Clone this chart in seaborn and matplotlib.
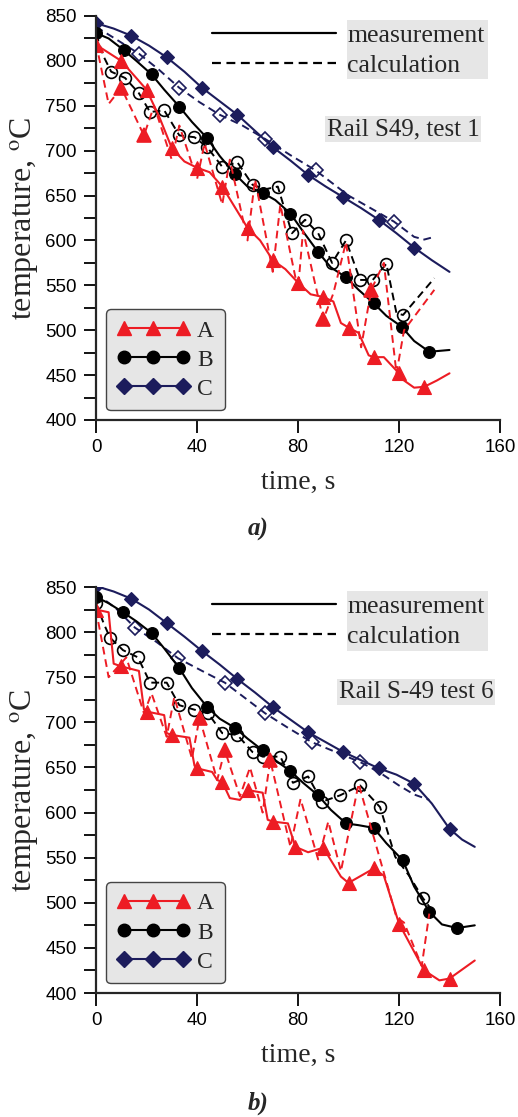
import numpy as np
import pandas as pd
import matplotlib
matplotlib.use("Agg")
import matplotlib.pyplot as plt
import seaborn as sns
from matplotlib.lines import Line2D
from matplotlib.patches import Rectangle
from matplotlib.ticker import MultipleLocator

# ---- panel a) Rail S49, test 1 ----
a_A_meas_t = [0, 10, 20, 25, 30, 35, 40, 45, 50, 55, 60, 65, 70, 75, 80, 85, 90, 94, 97, 100, 104, 108, 110, 114, 120, 122, 126, 130, 135, 140]
a_A_meas_T = [818, 800, 768, 738, 703, 688, 681, 676, 660, 637, 614, 600, 578, 568, 553, 540, 537, 532, 508, 503, 497, 472, 470, 470, 452, 444, 436, 437, 444, 452]
a_A_meas_mk = [0, 1, 2, 4, 6, 8, 10, 12, 14, 16, 19, 22, 24, 27]
a_A_calc_t = [0, 5, 10, 19, 23, 30, 33, 40, 43, 50, 53, 60, 63, 70, 73, 80, 82, 90, 94, 99, 105, 109, 114, 119, 122, 134]
a_A_calc_T = [820, 752, 770, 717, 750, 690, 728, 668, 708, 640, 690, 600, 668, 565, 640, 545, 611, 512, 541, 598, 481, 545, 575, 452, 500, 545]
a_A_calc_mk = [2, 3, 17, 21]

a_B_meas_t = [0, 5, 11, 16, 22, 27, 33, 38, 44, 49, 55, 60, 66, 71, 77, 82, 88, 93, 99, 104, 110, 115, 121, 126, 132, 136, 140]
a_B_meas_T = [831, 825, 812, 800, 785, 768, 749, 732, 714, 694, 674, 660, 653, 645, 630, 610, 587, 570, 559, 545, 530, 516, 504, 488, 476, 477, 478]
a_B_meas_mk = list(range(0, 25, 2))
a_B_calc_t = [0, 3, 6, 11.5, 17, 21.4, 27, 33, 39, 44, 50, 56, 62, 67, 72, 77.6, 82.8, 88, 93.5, 99, 104.6, 109.6, 115, 119, 121.6, 134]
a_B_calc_T = [830, 805, 788, 781, 764, 743, 745, 717, 715, 704, 682, 687, 662, 657, 660, 608, 623, 608, 575, 600, 556, 556, 574, 519, 517, 558]
a_B_calc_mk = [2, 3, 4, 5, 6, 7, 8, 9, 10, 11, 12, 14, 15, 16, 17, 18, 19, 20, 21, 22, 24]

a_C_meas_t = [0, 7, 14, 21, 28, 35, 42, 49, 56, 63, 70, 77, 84, 91, 98, 105, 112, 119, 126, 133, 140]
a_C_meas_T = [842, 836, 828, 817, 804, 788, 770, 755, 740, 722, 704, 689, 673, 660, 648, 636, 623, 608, 592, 578, 565]
a_C_meas_mk = list(range(0, 19, 2))
a_C_calc_t = [0, 8, 17, 25, 33, 41, 49, 58, 67, 77, 87, 100, 110, 118, 126, 130, 134]
a_C_calc_T = [838, 824, 808, 790, 770, 754, 740, 728, 713, 695, 678, 650, 634, 621, 604, 601, 604]
a_C_calc_mk = [2, 4, 6, 8, 10, 13]

# ---- panel b) Rail S-49 test 6 ----
b_A_meas_t = [0, 5, 7, 10, 17, 19, 20, 27, 28, 30, 37, 39, 40, 46, 48, 50, 53, 57, 60, 66, 68, 70, 76, 79, 84, 90, 97, 100, 110, 114, 120, 130, 136, 140, 150]
b_A_meas_T = [825, 822, 765, 762, 757, 714, 712, 708, 688, 686, 683, 652, 649, 645, 636, 634, 616, 614, 625, 622, 592, 590, 588, 562, 556, 561, 529, 522, 538, 530, 477, 425, 414, 416, 436]
b_A_meas_mk = [0, 3, 6, 9, 12, 15, 18, 21, 23, 25, 27, 28, 30, 31, 33]
b_A_calc_t = [0, 5, 12, 19, 22, 28, 31, 38, 41, 48, 51, 57, 61, 66, 69, 77, 81, 88, 92, 97, 104, 119, 122, 129, 132]
b_A_calc_T = [825, 750, 772, 710, 732, 684, 728, 660, 705, 636, 669, 618, 650, 600, 658, 562, 615, 548, 590, 535, 632, 484, 478, 430, 488]
b_A_calc_mk = [8, 10, 14]

b_B_meas_t = [0, 5, 10.7, 16, 22, 27, 33, 38, 44, 49, 55, 60, 66, 71, 77, 82, 88, 93, 99, 104, 110, 115, 121.5, 126, 132, 137, 143, 150]
b_B_meas_T = [839, 832, 822, 812, 799, 782, 760, 738, 717, 704, 694, 682, 669, 658, 646, 633, 619, 603, 588, 586, 583, 566, 547, 518, 490, 476, 472, 475]
b_B_meas_mk = list(range(0, 27, 2))
b_B_calc_t = [0, 3, 5.5, 10.7, 16.6, 21.4, 28, 33, 39, 44.4, 50, 56, 62, 66, 73, 78, 84, 89.5, 96.6, 104.6, 112.5, 118.5, 124, 129.5, 133]
b_B_calc_T = [832, 810, 794, 780, 772, 744, 744, 719, 714, 710, 688, 686, 667, 662, 662, 633, 640, 612, 619, 630, 606, 551, 530, 505, 492]
b_B_calc_mk = [0, 2, 3, 4, 5, 6, 7, 8, 9, 10, 11, 12, 13, 14, 15, 16, 17, 18, 19, 20, 23]

b_C_meas_t = [0, 7, 14, 21, 28, 35, 42, 49, 56, 63, 70, 77, 84, 91, 98, 105, 112, 119, 126, 133, 140, 145, 150]
b_C_meas_T = [851, 845, 837, 825, 810, 795, 779, 764, 748, 733, 717, 703, 689, 678, 667, 658, 649, 642, 632, 610, 582, 570, 562]
b_C_meas_mk = list(range(0, 21, 2))
b_C_calc_t = [0, 8, 15.4, 24, 32.5, 42, 51, 59, 67, 76, 85.5, 95, 104.6, 112, 120, 126, 132]
b_C_calc_T = [843, 826, 805, 789, 771, 757, 744, 727, 710, 694, 678, 667, 656, 645, 630, 620, 614]
b_C_calc_mk = [2, 4, 6, 8, 10, 12]

names = ["A", "B", "C"]
x_ticks = [0, 40, 80, 120, 160]
y_ticks = [400, 450, 500, 550, 600, 650, 700, 750, 800, 850]
panel_titles = ["Rail S49, test 1", "Rail S-49 test 6"]
panel_tags = ["a)", "b)"]

RED = "#ed1c24"
BLACK = "#000000"
NAVY = "#1c1c5c"
colors = {"A": RED, "B": BLACK, "C": NAVY}
markers = {"A": "^", "B": "o", "C": "D"}
msizes = {"A": 10, "B": 8.5, "C": 7.5}
GRAY = "#e6e6e6"
SERIF = "Liberation Serif"

sns.set_style("ticks")
plt.rcParams["font.family"] = ["Liberation Sans", "DejaVu Sans"]
plt.rcParams["mathtext.fontset"] = "stix"

panels = [
    {
        "A": (a_A_meas_t, a_A_meas_T, a_A_meas_mk, a_A_calc_t, a_A_calc_T, a_A_calc_mk),
        "B": (a_B_meas_t, a_B_meas_T, a_B_meas_mk, a_B_calc_t, a_B_calc_T, a_B_calc_mk),
        "C": (a_C_meas_t, a_C_meas_T, a_C_meas_mk, a_C_calc_t, a_C_calc_T, a_C_calc_mk),
    },
    {
        "A": (b_A_meas_t, b_A_meas_T, b_A_meas_mk, b_A_calc_t, b_A_calc_T, b_A_calc_mk),
        "B": (b_B_meas_t, b_B_meas_T, b_B_meas_mk, b_B_calc_t, b_B_calc_T, b_B_calc_mk),
        "C": (b_C_meas_t, b_C_meas_T, b_C_meas_mk, b_C_calc_t, b_C_calc_T, b_C_calc_mk),
    },
]
text_pos = [(0.76, 0.72), (0.792, 0.741)]

fig = plt.figure(figsize=(5.18, 11.17), dpi=100)
ax_a = fig.add_axes([96 / 518, 1 - 420 / 1117, 404 / 518, 404 / 1117])
ax_b = fig.add_axes([96 / 518, 1 - 993 / 1117, 404 / 518, 406 / 1117])
dash = (0, (4, 2.5))

for ax, series, title, tpos in zip([ax_a, ax_b], panels, panel_titles, text_pos):
    for name in ["C", "B", "A"]:
        mt, mT, mmk, ct, cT, cmk = series[name]
        col = colors[name]
        calc_face = col if name == "A" else "none"
        df_c = pd.DataFrame({"t": ct, "T": cT})
        sns.lineplot(data=df_c, x="t", y="T", ax=ax, sort=False, estimator=None,
                     color=col, lw=1.4, linestyle=dash, marker=markers[name],
                     markevery=cmk, ms=msizes[name], mfc=calc_face, mec=col,
                     mew=1.2)
        df_m = pd.DataFrame({"t": mt, "T": mT})
        sns.lineplot(data=df_m, x="t", y="T", ax=ax, sort=False, estimator=None,
                     color=col, lw=1.5, marker=markers[name], markevery=mmk,
                     ms=msizes[name], mfc=col, mec=col, mew=0.8)

    ax.set_xlim(0, 160)
    ax.set_ylim(400, 850)
    ax.set_xticks(x_ticks)
    ax.set_yticks(y_ticks)
    ax.yaxis.set_minor_locator(MultipleLocator(25))
    sns.despine(ax=ax)
    for sp in ["left", "bottom"]:
        ax.spines[sp].set_linewidth(1.6)
        ax.spines[sp].set_clip_on(False)
    ax.tick_params(axis="both", which="both", direction="out", length=9,
                   width=1.3, labelsize=13.5, pad=5, colors="black")
    ax.set_xlabel("time, s", family=SERIF, fontsize=20, labelpad=10)
    ax.set_ylabel(r"temperature, $^{\mathrm{o}}$C", family=SERIF, fontsize=23,
                  labelpad=3)

    # A/B/C legend box
    h_abc = [Line2D([], [], color=colors[n], marker=markers[n], lw=1.5,
                    ms=msizes[n] + 0.5, mfc=colors[n], mec=colors[n])
             for n in names]
    leg1 = ax.legend(h_abc, names, loc="lower left",
                     bbox_to_anchor=(0.025, 0.024), borderaxespad=0,
                     numpoints=3, handlelength=3.1, handletextpad=0.3,
                     labelspacing=0.32, borderpad=0.45, fancybox=True,
                     framealpha=1, facecolor=GRAY, edgecolor="#444444",
                     prop={"family": SERIF, "size": 17})
    leg1.get_frame().set_linewidth(1.0)
    ax.add_artist(leg1)

    # measurement / calculation key
    ax.add_patch(Rectangle((0.621, 0.843), 0.349, 0.147, transform=ax.transAxes,
                           facecolor=GRAY, edgecolor="none", zorder=4,
                           clip_on=False))
    h_mc = [Line2D([], [], color="black", lw=1.6),
            Line2D([], [], color="black", lw=1.6, linestyle=(0, (4, 2.5)))]
    leg2 = ax.legend(h_mc, ["measurement", "calculation"], loc="upper left",
                     bbox_to_anchor=(0.288, 0.98), frameon=False,
                     handlelength=4.8, handletextpad=0.45, labelspacing=0.28,
                     borderpad=0.0, borderaxespad=0.0,
                     prop={"family": SERIF, "size": 18.5})
    leg2.set_zorder(6)

    ax.text(tpos[0], tpos[1], title, transform=ax.transAxes, ha="center",
            va="center", family=SERIF, fontsize=18,
            bbox=dict(facecolor=GRAY, edgecolor="none", pad=1.5), zorder=6)

fig.text(258 / 518, 1 - 529 / 1117, "a)", ha="center", va="center",
         family=SERIF, fontsize=18, fontweight="bold", fontstyle="italic")
fig.text(258 / 518, 1 - 1103 / 1117, "b)", ha="center", va="center",
         family=SERIF, fontsize=18, fontweight="bold", fontstyle="italic")

fig.savefig("out.png", dpi=100)
